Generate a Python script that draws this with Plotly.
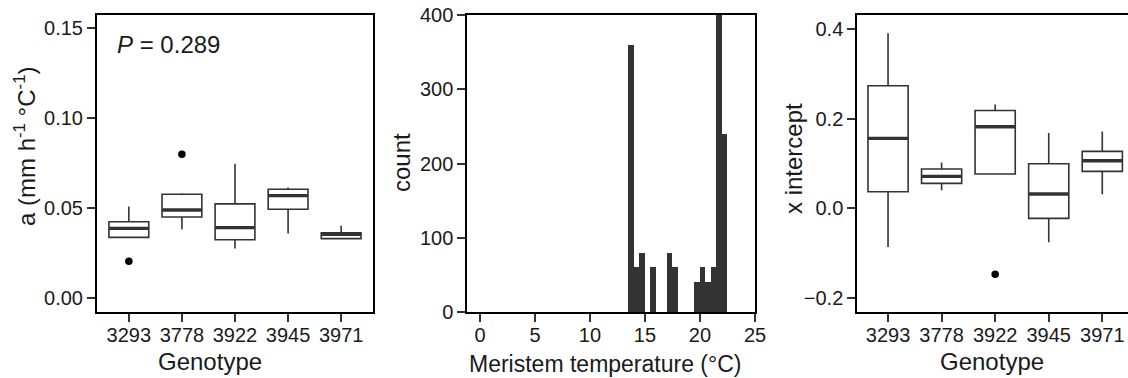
import plotly.graph_objects as go

W, H = 1128, 378

genotypes = ["3293", "3778", "3922", "3945", "3971"]

# Panel A: slope a (mm h-1 °C-1)
a_low = [0.0336, 0.0381, 0.0275, 0.0358, 0.0329]
a_q1 = [0.0336, 0.0449, 0.0323, 0.0492, 0.0329]
a_med = [0.0386, 0.0488, 0.0390, 0.0568, 0.0353]
a_q3 = [0.0423, 0.0575, 0.0522, 0.0603, 0.0362]
a_high = [0.0507, 0.0581, 0.0744, 0.0613, 0.0401]
a_out_geno = ["3293", "3778"]
a_out_val = [0.0204, 0.0798]

# Panel B: histogram of meristem temperature
bin_left = [13.5, 14.0, 14.5, 15.0, 15.5, 16.0, 16.5, 17.0, 17.5, 18.0,
            18.5, 19.0, 19.5, 20.0, 20.5, 21.0, 21.5, 22.0]
bin_counts = [360, 60, 80, 0, 60, 0, 0, 80, 60, 0,
              0, 0, 40, 60, 40, 60, 400, 240]
bin_width = 0.5

# Panel C: x intercept
c_low = [-0.0861, 0.0401, 0.0765, -0.0758, 0.0312]
c_q1 = [0.0371, 0.0557, 0.0765, -0.0223, 0.0824]
c_med = [0.1560, 0.0713, 0.1820, 0.0319, 0.1062]
c_q3 = [0.2733, 0.0876, 0.2183, 0.0995, 0.1270]
c_high = [0.3906, 0.1025, 0.2317, 0.1678, 0.1716]
c_out_geno = ["3922"]
c_out_val = [-0.147]

FONT = "Liberation Sans, Arial, sans-serif"
BOXCOL = "#333333"
BOXW = 0.75

fig = go.Figure()


def add_boxes(xa, ya, low, q1, med, q3, high, out_g, out_v):
    idx = list(range(len(genotypes)))
    fig.add_trace(go.Box(
        x=idx, q1=q1, median=med, q3=q3, lowerfence=low, upperfence=high,
        width=BOXW, whiskerwidth=0, fillcolor="white",
        line=dict(color=BOXCOL, width=1.6), boxpoints=False,
        xaxis=xa, yaxis=ya, showlegend=False, hoverinfo="skip"))
    mx, my = [], []
    for i, m in zip(idx, med):
        mx += [i - BOXW / 2, i + BOXW / 2, None]
        my += [m, m, None]
    fig.add_trace(go.Scatter(x=mx, y=my, mode="lines",
                             line=dict(color=BOXCOL, width=3.4),
                             xaxis=xa, yaxis=ya, showlegend=False,
                             hoverinfo="skip"))
    fig.add_trace(go.Scatter(x=[genotypes.index(g) for g in out_g], y=out_v,
                             mode="markers",
                             marker=dict(color="black", size=7.5),
                             xaxis=xa, yaxis=ya, showlegend=False,
                             hoverinfo="skip"))


add_boxes("x", "y", a_low, a_q1, a_med, a_q3, a_high, a_out_geno, a_out_val)

fig.add_trace(go.Bar(
    x=[b + bin_width / 2 for b in bin_left], y=bin_counts, width=bin_width,
    marker=dict(color="#333333", line=dict(width=0)),
    xaxis="x2", yaxis="y2", showlegend=False, hoverinfo="skip"))

add_boxes("x3", "y3", c_low, c_q1, c_med, c_q3, c_high, c_out_geno, c_out_val)


def px(v):
    return v / W


def py(v):
    return 1 - v / H


ydom = [py(312), py(15)]
axis_common = dict(showline=True, linecolor="black", linewidth=2,
                   ticks="outside", ticklen=8, tickwidth=1.5,
                   tickcolor="#333333", showgrid=False, zeroline=False,
                   automargin=False,
                   tickfont=dict(family=FONT, size=20, color="#1a1a1a"))
xstand = dict(ticklabelstandoff=-4)

fig.update_layout(
    template="none",
    width=W, height=H, autosize=False,
    margin=dict(l=0, r=0, t=0, b=0, pad=0, autoexpand=False),
    paper_bgcolor="white", plot_bgcolor="white",
    bargap=0, showlegend=False,
    xaxis=dict(domain=[px(97), px(373)], range=[-0.6, 4.6],
               tickvals=list(range(5)), ticktext=genotypes, mirror=True,
               anchor="y", **xstand, **axis_common),
    yaxis=dict(domain=ydom, range=[-0.0078, 0.157],
               tickvals=[0, 0.05, 0.10, 0.15], tickformat=".2f",
               mirror=True, anchor="x", **axis_common),
    xaxis2=dict(domain=[px(467.3), px(755)], range=[-1.15, 25],
                tickvals=[0, 5, 10, 15, 20, 25], mirror=True, anchor="y2",
                **xstand, **axis_common),
    yaxis2=dict(domain=ydom, range=[0, 400],
                tickvals=[0, 100, 200, 300, 400], mirror=True, anchor="x2",
                **axis_common),
    xaxis3=dict(domain=[px(857.3), 1.0], range=[-0.574, 4.48],
                tickvals=list(range(5)), ticktext=genotypes, mirror=True,
                anchor="y3", **xstand, **axis_common),
    yaxis3=dict(domain=ydom, range=[-0.231, 0.431],
                tickvals=[-0.2, 0.0, 0.2, 0.4], tickformat=".1f",
                mirror=False, anchor="x3", **axis_common),
)

anns = [
    dict(text="a (mm h<sup>-1</sup> °C<sup>-1</sup>)", x=px(25), y=py(147),
         textangle=-90, size=24),
    dict(text="Genotype", x=px(210), y=py(361), size=24),
    dict(text="count", x=px(402), y=py(163), textangle=-90, size=24),
    dict(text="Meristem temperature (°C)", x=px(605), y=py(364), size=23),
    dict(text="x intercept", x=px(793), y=py(159), textangle=-90, size=24),
    dict(text="Genotype", x=px(992), y=py(361), size=24),
]
for a in anns:
    size = a.pop("size")
    fig.add_annotation(xref="paper", yref="paper", showarrow=False,
                       xanchor="center", yanchor="middle", borderpad=0,
                       font=dict(family=FONT, size=size, color="#1a1a1a"),
                       **a)

fig.add_annotation(text="<i>P</i> = 0.289", xref="paper", yref="paper",
                   x=px(116), y=py(44), xanchor="left", yanchor="middle",
                   showarrow=False, borderpad=0,
                   font=dict(family=FONT, size=24, color="#1a1a1a"))

fig.write_html("out.html")
